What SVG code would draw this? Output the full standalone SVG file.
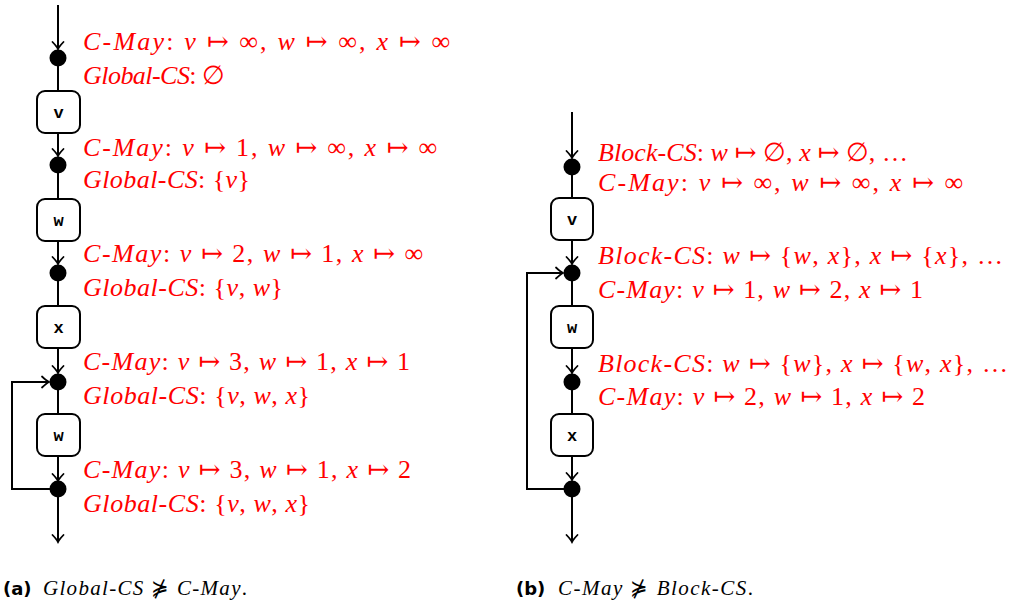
<svg xmlns="http://www.w3.org/2000/svg" width="1013" height="608" viewBox="0 0 1013 608">
<style>
.t{font-family:'Liberation Serif','Times New Roman','DejaVu Serif',serif;font-size:26px;fill:#ff0000}
.i{font-style:italic}
.cap{font-family:'Liberation Serif','Times New Roman','DejaVu Serif',serif;font-size:21px;fill:#000}
.lab{font-family:'DejaVu Sans','Liberation Sans',sans-serif;font-weight:bold;font-size:18px;fill:#000}
.box{fill:#fff;stroke:#000;stroke-width:2}
.bl{font-family:'Liberation Mono','Courier New','DejaVu Sans Mono',monospace;font-weight:bold;font-size:17px;fill:#000;text-anchor:middle}
.dot{fill:#000}
.e{fill:none;stroke:#000;stroke-width:2}
</style>
<defs>
<marker id="ah" markerUnits="userSpaceOnUse" markerWidth="16" markerHeight="16" refX="0" refY="0" viewBox="-9 -8 11 16" orient="auto" overflow="visible">
<path d="M-7,-5.5 Q-2.5,-1.2 0,0 Q-2.5,1.2 -7,5.5" fill="none" stroke="#000" stroke-width="1.8" stroke-linecap="round"/>
</marker>
</defs>

<g id="connectors">
<line class="e" x1="58" y1="5" x2="58" y2="49" marker-end="url(#ah)"/>
<line class="e" x1="58" y1="58" x2="58" y2="91"/>
<line class="e" x1="58" y1="133" x2="58" y2="156" marker-end="url(#ah)"/>
<line class="e" x1="58" y1="165" x2="58" y2="199"/>
<line class="e" x1="58" y1="241" x2="58" y2="264" marker-end="url(#ah)"/>
<line class="e" x1="58" y1="273" x2="58" y2="306"/>
<line class="e" x1="58" y1="348" x2="58" y2="373" marker-end="url(#ah)"/>
<line class="e" x1="58" y1="382" x2="58" y2="414"/>
<line class="e" x1="58" y1="456" x2="58" y2="481" marker-end="url(#ah)"/>
<line class="e" x1="58" y1="490" x2="58" y2="542" marker-end="url(#ah)"/>
<polyline class="e" points="58,489 12,489 12,382 49,382" marker-end="url(#ah)"/>
<line class="e" x1="572" y1="112" x2="572" y2="158" marker-end="url(#ah)"/>
<line class="e" x1="572" y1="167" x2="572" y2="198"/>
<line class="e" x1="572" y1="240" x2="572" y2="264" marker-end="url(#ah)"/>
<line class="e" x1="572" y1="273" x2="572" y2="306"/>
<line class="e" x1="572" y1="348" x2="572" y2="373" marker-end="url(#ah)"/>
<line class="e" x1="572" y1="382" x2="572" y2="414"/>
<line class="e" x1="572" y1="456" x2="572" y2="480" marker-end="url(#ah)"/>
<line class="e" x1="572" y1="489" x2="572" y2="542" marker-end="url(#ah)"/>
<polyline class="e" points="572,489 527,489 527,273 563,273" marker-end="url(#ah)"/>
</g>

<g id="a-p0"><circle class="dot" cx="58" cy="58" r="8.5"/></g>
<g id="a-v"><rect class="box" x="37" y="91" width="43" height="42" rx="8"/><text class="bl" x="58.5" y="118">v</text></g>
<g id="a-p1"><circle class="dot" cx="58" cy="165" r="8.5"/></g>
<g id="a-w1"><rect class="box" x="37" y="199" width="43" height="42" rx="8"/><text class="bl" x="58.5" y="226">w</text></g>
<g id="a-p2"><circle class="dot" cx="58" cy="273" r="8.5"/></g>
<g id="a-x"><rect class="box" x="37" y="306" width="43" height="42" rx="8"/><text class="bl" x="58.5" y="333">x</text></g>
<g id="a-p3"><circle class="dot" cx="58" cy="382" r="8.5"/></g>
<g id="a-w2"><rect class="box" x="37" y="414" width="43" height="42" rx="8"/><text class="bl" x="58.5" y="441">w</text></g>
<g id="a-p4"><circle class="dot" cx="58" cy="489" r="8.5"/></g>

<g id="b-p0"><circle class="dot" cx="572" cy="167" r="8.5"/></g>
<g id="b-v"><rect class="box" x="551" y="198" width="42" height="42" rx="8"/><text class="bl" x="572" y="225">v</text></g>
<g id="b-p1"><circle class="dot" cx="572" cy="273" r="8.5"/></g>
<g id="b-w"><rect class="box" x="551" y="306" width="42" height="42" rx="8"/><text class="bl" x="572" y="333">w</text></g>
<g id="b-p2"><circle class="dot" cx="572" cy="382" r="8.5"/></g>
<g id="b-x"><rect class="box" x="551" y="414" width="42" height="42" rx="8"/><text class="bl" x="572" y="441">x</text></g>
<g id="b-p3"><circle class="dot" cx="572" cy="489" r="8.5"/></g>

<g id="a-labels">
<text class="t" x="83" y="50" textLength="367"><tspan class="i">C-May</tspan>: <tspan class="i">v</tspan> ↦ ∞, <tspan class="i">w</tspan> ↦ ∞, <tspan class="i">x</tspan> ↦ ∞</text>
<text class="t" x="83" y="84" textLength="142"><tspan class="i">Global-CS</tspan>: ∅</text>
<text class="t" x="83" y="156" textLength="354"><tspan class="i">C-May</tspan>: <tspan class="i">v</tspan> ↦ 1, <tspan class="i">w</tspan> ↦ ∞, <tspan class="i">x</tspan> ↦ ∞</text>
<text class="t" x="83" y="188" textLength="167"><tspan class="i">Global-CS</tspan>: {<tspan class="i">v</tspan>}</text>
<text class="t" x="83" y="262" textLength="340"><tspan class="i">C-May</tspan>: <tspan class="i">v</tspan> ↦ 2, <tspan class="i">w</tspan> ↦ 1, <tspan class="i">x</tspan> ↦ ∞</text>
<text class="t" x="83" y="296" textLength="200"><tspan class="i">Global-CS</tspan>: {<tspan class="i">v</tspan>, <tspan class="i">w</tspan>}</text>
<text class="t" x="83" y="370" textLength="327"><tspan class="i">C-May</tspan>: <tspan class="i">v</tspan> ↦ 3, <tspan class="i">w</tspan> ↦ 1, <tspan class="i">x</tspan> ↦ 1</text>
<text class="t" x="83" y="404" textLength="227"><tspan class="i">Global-CS</tspan>: {<tspan class="i">v</tspan>, <tspan class="i">w</tspan>, <tspan class="i">x</tspan>}</text>
<text class="t" x="83" y="478" textLength="328"><tspan class="i">C-May</tspan>: <tspan class="i">v</tspan> ↦ 3, <tspan class="i">w</tspan> ↦ 1, <tspan class="i">x</tspan> ↦ 2</text>
<text class="t" x="83" y="512" textLength="227"><tspan class="i">Global-CS</tspan>: {<tspan class="i">v</tspan>, <tspan class="i">w</tspan>, <tspan class="i">x</tspan>}</text>
</g>

<g id="b-labels">
<text class="t" x="598" y="161" textLength="310"><tspan class="i">Block-CS</tspan>: <tspan class="i">w</tspan> ↦ ∅, <tspan class="i">x</tspan> ↦ ∅, …</text>
<text class="t" x="598" y="191" textLength="365"><tspan class="i">C-May</tspan>: <tspan class="i">v</tspan> ↦ ∞, <tspan class="i">w</tspan> ↦ ∞, <tspan class="i">x</tspan> ↦ ∞</text>
<text class="t" x="598" y="264" textLength="405"><tspan class="i">Block-CS</tspan>: <tspan class="i">w</tspan> ↦ {<tspan class="i">w</tspan>, <tspan class="i">x</tspan>}, <tspan class="i">x</tspan> ↦ {<tspan class="i">x</tspan>}, …</text>
<text class="t" x="598" y="298" textLength="325"><tspan class="i">C-May</tspan>: <tspan class="i">v</tspan> ↦ 1, <tspan class="i">w</tspan> ↦ 2, <tspan class="i">x</tspan> ↦ 1</text>
<text class="t" x="598" y="372" textLength="410"><tspan class="i">Block-CS</tspan>: <tspan class="i">w</tspan> ↦ {<tspan class="i">w</tspan>}, <tspan class="i">x</tspan> ↦ {<tspan class="i">w</tspan>, <tspan class="i">x</tspan>}, …</text>
<text class="t" x="598" y="405" textLength="327"><tspan class="i">C-May</tspan>: <tspan class="i">v</tspan> ↦ 2, <tspan class="i">w</tspan> ↦ 1, <tspan class="i">x</tspan> ↦ 2</text>
</g>

<g id="captions">
<text class="lab" x="3" y="595">(a)</text>
<text class="cap" x="43" y="595" textLength="204"><tspan class="i">Global-CS</tspan> ⋡ <tspan class="i">C-May</tspan>.</text>
<text class="lab" x="516" y="595">(b)</text>
<text class="cap" x="558" y="595" textLength="195"><tspan class="i">C-May</tspan> ⋡ <tspan class="i">Block-CS</tspan>.</text>
</g>
</svg>
